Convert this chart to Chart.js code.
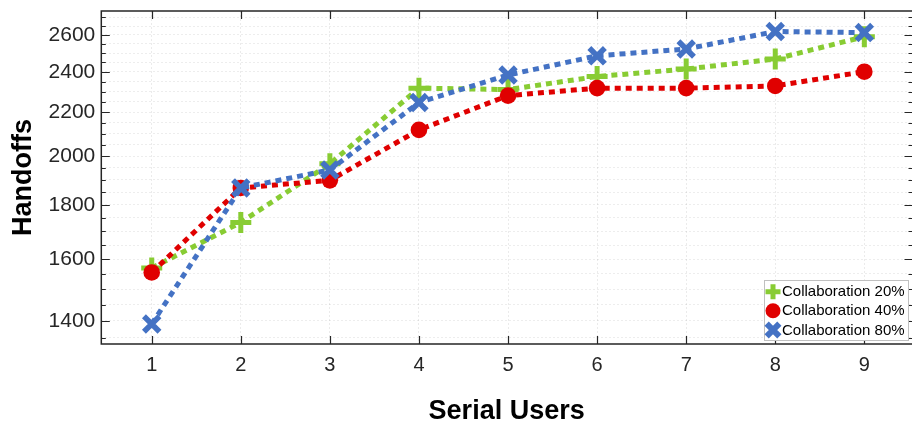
<!DOCTYPE html>
<html>
<head>
<meta charset="utf-8">
<script src="https://cdn.jsdelivr.net/npm/chart.js@4/dist/chart.umd.min.js"></script>
<style>
  html, body { margin: 0; padding: 0; background: #ffffff; }
  #wrap { width: 912px; height: 429px; }
</style>
</head>
<body>
<div id="wrap"><canvas id="c" width="912" height="429"></canvas></div>
<script>
// ---- data ----
const serialUsers = [1, 2, 3, 4, 5, 6, 7, 8, 9];
const collab20 = [1570, 1733, 1967, 2317, 2310, 2376, 2415, 2468, 2590];
const collab40 = [1555, 1867, 1898, 2117, 2280, 2317, 2317, 2328, 2401];
const collab80 = [1391, 1867, 1941, 2246, 2384, 2485, 2522, 2619, 2613];
const seriesNames = ['Collaboration 20%', 'Collaboration 40%', 'Collaboration 80%'];
const yTickValues = [1350, 1400, 1450, 1500, 1550, 1600, 1650, 1700, 1750, 1800, 1850, 1900, 1950,
                     2000, 2050, 2100, 2150, 2200, 2250, 2300, 2350, 2400, 2450, 2500, 2550, 2600, 2650, 2700];
const yLabelValues = [1400, 1600, 1800, 2000, 2200, 2400, 2600];
const xTitle = 'Serial Users';
const yTitle = 'Handoffs';

const GREEN = '#88cc33';
const RED = '#e00000';
const BLUE = '#4472c4';
const AXIS = '#262626';

function pts(arr) { return serialUsers.map((u, i) => ({ x: u, y: arr[i] })); }

const styles = [
  { color: GREEN, pointStyle: 'cross', radius: 10.5, width: 5, order: 3 },
  { color: RED, pointStyle: 'circle', radius: 8.3, width: 0, order: 2 },
  { color: BLUE, pointStyle: 'crossRot', radius: 11, width: 5.5, order: 1 }
];
const seriesData = [collab20, collab40, collab80];

const datasets = seriesData.map((arr, i) => ({
  label: seriesNames[i],
  data: pts(arr),
  order: styles[i].order,
  borderColor: styles[i].color,
  backgroundColor: styles[i].color,
  borderWidth: 5,
  borderDash: [6, 5],
  borderCapStyle: 'butt',
  tension: 0,
  fill: false,
  pointStyle: styles[i].pointStyle,
  pointRadius: styles[i].radius,
  pointHoverRadius: styles[i].radius,
  pointBorderWidth: styles[i].width,
  pointBorderColor: styles[i].color,
  pointBackgroundColor: styles[i].color,
  clip: false
}));

const framePlugin = {
  id: 'frame',
  afterDatasetsDraw(chart) {
    const { ctx, chartArea: a, scales: { x, y } } = chart;
    ctx.save();
    ctx.strokeStyle = AXIS;
    ctx.lineWidth = 1.5;
    ctx.beginPath();
    ctx.moveTo(a.right + 2, a.top); ctx.lineTo(a.left, a.top);
    ctx.lineTo(a.left, a.bottom); ctx.lineTo(a.right + 2, a.bottom);
    ctx.stroke();
    ctx.lineWidth = 1.2;
    ctx.beginPath();
    x.ticks.forEach(t => {
      const px = Math.round(x.getPixelForValue(t.value)) + 0.5;
      ctx.moveTo(px, a.bottom); ctx.lineTo(px, a.bottom - 8);
      ctx.moveTo(px, a.top); ctx.lineTo(px, a.top + 8);
    });
    y.ticks.forEach(t => {
      const py = Math.round(y.getPixelForValue(t.value)) + 0.5;
      const L = yLabelValues.includes(t.value) ? 8.5 : 4.5;
      ctx.moveTo(a.left, py); ctx.lineTo(a.left + L, py);
      ctx.moveTo(a.right + 1, py); ctx.lineTo(a.right + 1 - L, py);
    });
    ctx.stroke();
    ctx.restore();
  }
};

const legendPlugin = {
  id: 'boxLegend',
  afterDraw(chart) {
    const ctx = chart.ctx;
    const bx = 764.5, by = 280.5, bw = 144, bh = 60;
    ctx.save();
    ctx.fillStyle = '#ffffff';
    ctx.fillRect(bx, by, bw, bh);
    ctx.strokeStyle = '#c0c0c0';
    ctx.lineWidth = 1;
    ctx.strokeRect(bx, by, bw, bh);
    const rows = [291.7, 310.7, 330];
    const legendMarks = [
      { pointStyle: 'cross', radius: 7.5, borderWidth: 5 },
      { pointStyle: 'circle', radius: 7.5, borderWidth: 0 },
      { pointStyle: 'crossRot', radius: 9, borderWidth: 6 }
    ];
    chart.data.datasets.forEach((ds, i) => {
      const m = legendMarks[i];
      ctx.fillStyle = ds.borderColor;
      ctx.strokeStyle = ds.borderColor;
      ctx.lineWidth = m.borderWidth;
      ctx.setLineDash([]);
      Chart.helpers.drawPoint(ctx, { pointStyle: m.pointStyle, radius: m.radius, borderWidth: m.borderWidth, rotation: 0 }, 773, rows[i]);
      ctx.fillStyle = '#000000';
      ctx.font = '15px "Liberation Sans", Arial, sans-serif';
      ctx.textAlign = 'left';
      ctx.textBaseline = 'middle';
      ctx.fillText(ds.label, 782, rows[i] + 0.5);
    });
    ctx.restore();
  }
};

new Chart(document.getElementById('c'), {
  type: 'line',
  data: { datasets },
  plugins: [framePlugin, legendPlugin],
  options: {
    responsive: false,
    animation: false,
    devicePixelRatio: 1,
    layout: { autoPadding: false, padding: { top: 11, right: 0, left: 0, bottom: 0 } },
    plugins: { legend: { display: false }, tooltip: { enabled: false } },
    scales: {
      x: {
        type: 'linear',
        min: 0.434,
        max: 9.535,
        afterBuildTicks(scale) { scale.ticks = serialUsers.map(v => ({ value: v })); },
        afterFit(scale) { scale.height = 85; scale.paddingLeft = 0; scale.paddingRight = 0; },
        grid: { color: 'rgba(0,0,0,0.08)', lineWidth: 1, drawTicks: false },
        border: { display: false, dash: [2, 2] },
        ticks: {
          padding: 9,
          color: AXIS,
          font: { family: '"Liberation Sans", Arial, sans-serif', size: 20 },
          callback: v => String(v),
          maxRotation: 0
        },
        title: {
          display: true,
          text: xTitle,
          color: '#000000',
          font: { family: '"Liberation Sans", Arial, sans-serif', size: 27, weight: 'bold' },
          padding: { top: 0, bottom: 1.5 }
        }
      },
      y: {
        type: 'logarithmic',
        min: 1332,
        max: 2738,
        afterBuildTicks(scale) { scale.ticks = yTickValues.map(v => ({ value: v })); },
        afterFit(scale) { scale.width = 101.3; scale.paddingTop = 0; scale.paddingBottom = 0; },
        grid: { color: 'rgba(0,0,0,0.07)', lineWidth: 1, drawTicks: false },
        border: { display: false, dash: [2, 2] },
        ticks: {
          padding: 6,
          color: AXIS,
          font: { family: '"Liberation Sans", Arial, sans-serif', size: 21 },
          autoSkip: false,
          callback: v => (yLabelValues.includes(v) ? String(v) : '')
        },
        title: {
          display: true,
          text: yTitle,
          color: '#000000',
          font: { family: '"Liberation Sans", Arial, sans-serif', size: 27, weight: 'bold' },
          padding: { top: 7, bottom: 0 }
        }
      }
    }
  }
});
</script>
</body>
</html>
